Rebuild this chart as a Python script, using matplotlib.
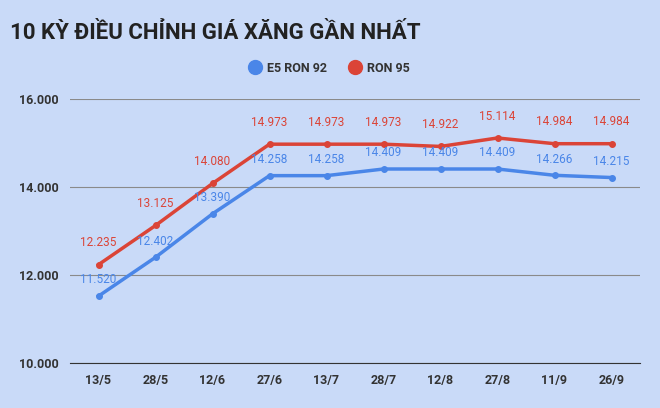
import matplotlib
matplotlib.use("Agg")
import matplotlib.pyplot as plt

dates = ["13/5","28/5","12/6","27/6","13/7","28/7","12/8","27/8","11/9","26/9"]
e5 = [11520,12402,13390,14258,14258,14409,14409,14409,14266,14215]
ron95 = [12235,13125,14080,14973,14973,14973,14922,15114,14984,14984]

bg = "#c9daf8"
blue = "#4a86e8"
red = "#db4437"
plt.rcParams['font.family'] = ['Roboto', 'DejaVu Sans']

fig = plt.figure(figsize=(6.6,4.08), dpi=100, facecolor=bg)
ax = fig.add_axes([70/660, 1-363/408, 570/660, (363-99)/408], facecolor=bg)
x = list(range(len(dates)))
ax.plot(x, e5, color=blue, lw=2.5, marker='o', ms=4, label="E5 RON 92", clip_on=False, zorder=3)
ax.plot(x, ron95, color=red, lw=2.5, marker='o', ms=4, label="RON 95", clip_on=False, zorder=3)
fmt = lambda v: f"{v:,}".replace(",", ".")
for i in x:
    ax.annotate(fmt(ron95[i]), (i, ron95[i]), xytext=(0,11), textcoords="offset points", ha='center', va='bottom', color=red, fontsize=8.5)
    ax.annotate(fmt(e5[i]), (i, e5[i]), xytext=(0,7), textcoords="offset points", ha='center', va='bottom', color=blue, fontsize=8.5, zorder=4)
ax.set_xlim(-0.5, 9.5)
ax.set_ylim(10000, 16000)
ax.set_yticks([10000,12000,14000,16000])
ax.set_yticklabels([fmt(v) for v in [10000,12000,14000,16000]], fontsize=9, fontweight='bold', color='#333333')
ax.set_xticks(x)
ax.set_xticklabels(dates, fontsize=9, fontweight='bold', color='#333333')
ax.grid(axis='y', color='#8a8a8a', lw=0.8)
ax.set_axisbelow(True)
for s in ax.spines.values():
    s.set_visible(False)
ax.spines['bottom'].set_visible(True)
ax.spines['bottom'].set_color('#333333')
ax.tick_params(length=0, pad=8)
fig.legend(loc='center', bbox_to_anchor=(0.5, 1-68/408), ncol=2, frameon=False,
           handlelength=0.8, handletextpad=0.6, columnspacing=1.8,
           prop={'weight':'bold', 'size':9})
leg = fig.legends[0]
for h in leg.legend_handles:
    h.set_linestyle('none'); h.set_marker('o'); h.set_markersize(10)
for t in leg.get_texts():
    t.set_color('#333333')
fig.text(10/660, 1-33/408, "10 KỲ ĐIỀU CHỈNH GIÁ XĂNG GẦN NHẤT", fontsize=16, fontweight='bold', color='#222222', va='center')
fig.savefig("out.png", dpi=100, facecolor=bg)
